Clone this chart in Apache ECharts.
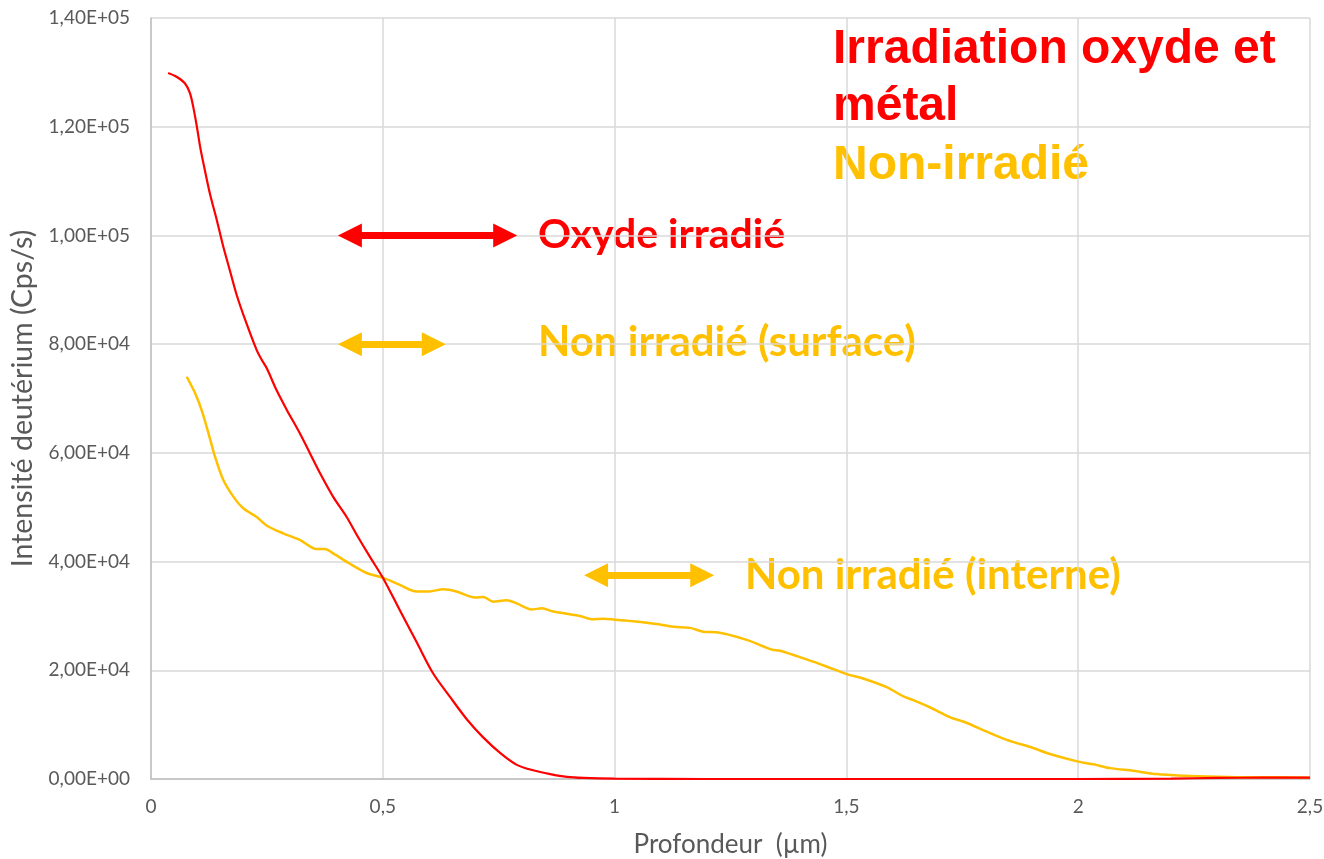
<!DOCTYPE html>
<html>
<head>
<meta charset="utf-8">
<script src="https://cdn.jsdelivr.net/npm/echarts@6/dist/echarts.min.js"></script>
<style>
  html, body { margin: 0; padding: 0; background: #fff; }
  #chart { width: 1324px; height: 859px; }
</style>
</head>
<body>
<div id="chart"></div>
<script>
// profondeur (µm) / intensité (Cps/s)
var oxydeX = [0.037, 0.055, 0.073, 0.084, 0.091, 0.099, 0.106, 0.113, 0.127, 0.142, 0.156, 0.170, 0.185, 0.206, 0.228, 0.239, 0.250, 0.271, 0.293, 0.321, 0.343, 0.365, 0.393, 0.422, 0.444, 0.472, 0.501, 0.537, 0.574, 0.608, 0.645, 0.682, 0.716, 0.753, 0.789, 0.824, 0.861, 0.897, 0.932, 1.0, 1.2, 1.5, 1.8, 2.0, 2.2, 2.3, 2.4, 2.5];
var oxydeY = [129900, 129200, 128000, 126200, 123700, 120000, 116300, 113300, 107700, 102800, 97900, 93600, 89000, 83800, 78900, 77100, 75500, 71500, 67900, 63600, 59900, 56200, 51900, 48200, 44900, 40900, 36900, 31000, 25000, 19500, 15100, 10900, 7700, 4800, 2600, 1600, 900, 400, 200, 60, 0, 0, 0, 0, 80, 200, 250, 250];

var nonIrrX = [0.077, 0.095, 0.109, 0.124, 0.138, 0.156, 0.178, 0.199, 0.228, 0.250, 0.285, 0.321, 0.357, 0.375, 0.393, 0.429, 0.465, 0.501, 0.537, 0.573, 0.600, 0.630, 0.659, 0.699, 0.717, 0.738, 0.767, 0.789, 0.821, 0.843, 0.868, 0.925, 0.951, 0.976, 1.001, 1.040, 1.091, 1.127, 1.163, 1.191, 1.220, 1.285, 1.339, 1.357, 1.414, 1.457, 1.501, 1.536, 1.587, 1.623, 1.644, 1.680, 1.723, 1.760, 1.803, 1.846, 1.903, 1.939, 2.000, 2.033, 2.069, 2.119, 2.169, 2.227, 2.299, 2.371, 2.442, 2.500];
var nonIrrY = [74000, 71000, 67900, 63600, 59300, 55000, 51900, 49800, 48200, 46600, 45200, 44000, 42300, 42300, 41500, 39600, 37900, 37000, 35700, 34500, 34500, 34900, 34500, 33400, 33500, 32600, 32900, 32300, 31200, 31400, 30800, 30000, 29400, 29500, 29300, 29000, 28500, 28000, 27800, 27100, 27000, 25600, 23800, 23600, 22000, 20700, 19300, 18500, 16900, 15200, 14500, 13200, 11400, 10300, 8700, 7200, 5700, 4600, 3200, 2700, 2000, 1500, 900, 600, 400, 300, 300, 250];

// double arrows: [x start, x end, y]
var arrowOxyde = [0.429, 0.764, 100000];
var arrowSurface = [0.429, 0.610, 80000];
var arrowInterne = [0.960, 1.189, 37500];

var RED = "#FF0000";
var YELLOW = "#FFC000";

function zip(xs, ys) {
  return xs.map(function (x, i) { return [x, ys[i]]; });
}

function sci(v) {
  if (v === 0) return "0,00E+00";
  var e = Math.floor(Math.log10(v));
  var m = (v / Math.pow(10, e)).toFixed(2).replace(".", ",");
  return m + "E+" + (e < 10 ? "0" + e : e);
}

function arrowLine(a) {
  return [{ coord: [a[0], a[2]] }, { coord: [a[1], a[2]] }];
}

var myEcharts = echarts.init(document.getElementById("chart"));
myEcharts.setOption({
  backgroundColor: "#fff",
  animation: false,
  grid: { left: 151, right: 14, top: 18, bottom: 80, containLabel: false, outerBoundsMode: "none" },
  xAxis: {
    type: "value",
    min: 0,
    max: 2.5,
    interval: 0.5,
    name: "Profondeur  (µm)",
    nameLocation: "middle",
    nameGap: 53,
    nameTextStyle: { fontFamily: "Lato", fontSize: 26, color: "#595959" },
    axisLine: { show: true, lineStyle: { color: "#bfbfbf", width: 1.5 } },
    axisTick: { show: false },
    axisLabel: {
      fontFamily: "Lato", fontSize: 19, color: "#595959", margin: 18,
      formatter: function (v) { return String(v).replace(".", ","); }
    },
    splitLine: { show: true, lineStyle: { color: "#d9d9d9", width: 1.5 } }
  },
  yAxis: {
    type: "value",
    min: 0,
    max: 140000,
    interval: 20000,
    name: "Intensité deutérium (Cps/s)",
    nameLocation: "middle",
    nameGap: 112,
    nameTextStyle: { fontFamily: "Lato", fontSize: 28.5, color: "#595959" },
    axisLine: { show: true, lineStyle: { color: "#bfbfbf", width: 1.5 } },
    axisTick: { show: false },
    axisLabel: { fontFamily: "Lato", fontSize: 19, color: "#595959", margin: 21, formatter: sci },
    splitLine: { show: true, lineStyle: { color: "#d9d9d9", width: 1.5 } }
  },
  series: [
    {
      name: "Non irradié",
      type: "line",
      smooth: 0.3,
      showSymbol: false,
      data: zip(nonIrrX, nonIrrY),
      lineStyle: { color: YELLOW, width: 2.5 },
      markLine: {
        silent: true,
        symbol: ["triangle", "triangle"],
        symbolSize: [24, 24],
        label: { show: false },
        lineStyle: { color: YELLOW, width: 7, type: "solid" },
        data: [arrowLine(arrowSurface), arrowLine(arrowInterne)]
      }
    },
    {
      name: "Oxyde irradié",
      type: "line",
      smooth: 0.3,
      showSymbol: false,
      data: zip(oxydeX, oxydeY),
      lineStyle: { color: RED, width: 2.2 },
      markLine: {
        silent: true,
        symbol: ["triangle", "triangle"],
        symbolSize: [24, 24],
        label: { show: false },
        lineStyle: { color: RED, width: 7, type: "solid" },
        data: [arrowLine(arrowOxyde)]
      }
    }
  ],
  graphic: [
    { type: "text", x: 833, y: 50, style: { text: "Irradiation oxyde et", font: "bold 48px 'Liberation Sans'", fill: RED, verticalAlign: "middle" } },
    { type: "text", x: 833, y: 107, style: { text: "métal", font: "bold 48px 'Liberation Sans'", fill: RED, verticalAlign: "middle" } },
    { type: "text", x: 833, y: 166, style: { text: "Non-irradié", font: "bold 48px 'Liberation Sans'", fill: YELLOW, verticalAlign: "middle" } },
    { type: "text", x: 538, y: 235, style: { text: "Oxyde irradié", font: "bold 41px Lato", fill: RED, verticalAlign: "middle" } },
    { type: "text", x: 538, y: 342, style: { text: "Non irradié (surface)", font: "bold 42px Lato", fill: YELLOW, verticalAlign: "middle" } },
    { type: "text", x: 745, y: 575, style: { text: "Non irradié (interne)", font: "bold 42px Lato", fill: YELLOW, verticalAlign: "middle" } }
  ]
});
</script>
</body>
</html>
